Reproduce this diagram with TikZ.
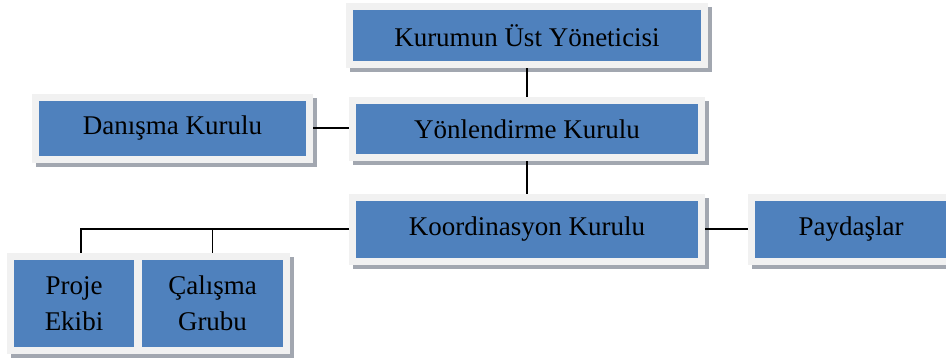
\documentclass[tikz,border=0pt]{standalone}
\usepackage{fontspec}
\setmainfont{Liberation Serif}
\definecolor{boxblue}{HTML}{4F81BD}
\definecolor{framegray}{HTML}{F1F1F1}
\definecolor{shadowgray}{HTML}{A2A7B0}
\tikzset{
  orgbox/.style={rectangle, fill=boxblue, draw=framegray, line width=7pt,
    inner sep=0pt, align=center, text=black,
    font=\fontsize{27}{36}\selectfont,
    preaction={draw=shadowgray, fill=shadowgray, line width=7pt,
      transform canvas={shift={(3.5pt,-4pt)}}}},
  link/.style={draw=black, line width=1.6pt}
}
\begin{document}
\begin{tikzpicture}[x=1pt, y=-1pt]
  \clip (0,0) rectangle (946,360);
  % connectors first, so the boxes sit on top of their ends
  \node[orgbox, minimum width=355pt, minimum height=58pt] (top) at (527,35.5) {Kurumun Üst Yöneticisi};
  \node[orgbox, minimum width=349pt, minimum height=57pt] (yon) at (527,129) {Yönlendirme Kurulu};
  \node[orgbox, minimum width=274pt, minimum height=62pt] (dan) at (172.5,128) {Danışma Kurulu};
  \node[orgbox, minimum width=349pt, minimum height=64pt] (koo) at (527,229) {Koordinasyon Kurulu};
  \node[orgbox, minimum width=199pt, minimum height=64pt] (pay) at (851,229) {Paydaşlar};
  \node[orgbox, minimum width=127pt, minimum height=94pt] (proje) at (74,303.5) {Proje\\Ekibi};
  \node[orgbox, minimum width=148pt, minimum height=94pt] (calisma) at (212.5,303.5) {Çalışma\\Grubu};

  \coordinate (pj) at (81,229);
  \draw[link] (top.south) -- (yon.north);
  \draw[link] (dan.east) -- (dan.east -| yon.west);
  \draw[link] (yon.south) -- (koo.north);
  \draw[link] (koo.east) -- (pay.west);
  \draw[link] (koo.west) -- (koo.west -| pj) -- (pj |- proje.north);
  \draw[link] (koo.west -| calisma.north) -- (calisma.north);
\end{tikzpicture}
\end{document}
